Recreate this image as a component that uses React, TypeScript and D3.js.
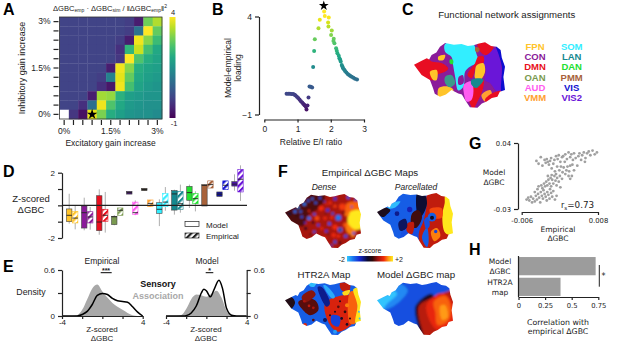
import React, { useEffect, useRef } from "react";
import * as d3 from "d3";

const W = 617;
const H = 342;
const FONT = "'Liberation Sans', Arial, sans-serif";
const DEJAVU = "'DejaVu Sans', sans-serif";
const INK = "#222";

// A: rows run from 3% (top) down to 0%, null is the white cell
const heatValues = [
  [0, 0, 0, 0, 0, 0, 0, -0.1, -0.6, 2.9, 3.4],
  [0, 0, 0, 0, 0, 0, 0, -0.1, 0.9, 4, 2.8],
  [0, 0, 0, 0, 0, 0, -0.1, -0.6, 3.9, 3.1, 2.4],
  [0, 0, 0, 0, 0, 0, -0.3, 2.3, 3.6, 2.5, 2],
  [0, 0, 0, 0, 0, 0, -0.2, 4, 2.6, 2.1, 1.9],
  [0, 0, 0, 0, 0, -0.6, 3.9, 3.1, 2.1, 1.9, 1.8],
  [0, 0, 0, 0, -0.1, 1.2, 3.8, 2.8, 2, 1.8, 1.7],
  [0, 0, 0, 0, -0.3, -0.7, 3.9, 2.5, 1.9, 1.7, 1.6],
  [0, 0, 0, -0.6, 3.3, 3.2, 2.2, 1.8, 1.7, 1.6, 1.6],
  [0, 0, -0.3, 0.8, 3.9, 2.6, 2, 1.7, 1.6, 1.5, 1.5],
  [null, -0.2, -0.8, 3.8, 3, 2.1, 1.8, 1.6, 1.5, 1.5, 1.4],
];

// B: E/I ratio vs loading, coloured by loading
const ratioVals = [0.67, 0.72, 0.77, 0.82, 0.87, 0.91, 0.94, 0.98, 1.02, 1.06, 1.1, 1.14, 1.17, 1.2, 1.22, 1.25, 1.27, 1.3, 1.33, 1.36, 1.4, 1.44, 1.47, 1.5, 1.52, 1.63, 1.67, 1.8, 1.82, 1.94, 1.92, 1.93, 2.03, 2.01, 2.09, 2.08, 2.11, 2.16, 2.18, 2.2, 2.24, 2.26, 2.28, 2.3, 2.33, 2.35, 2.37, 2.4, 2.43, 2.47, 2.51, 2.55, 2.59, 2.63, 2.68, 2.73, 2.79];
const loadingVals = [0.06, 0.06, 0.06, 0.05, 0.04, 0.01, -0.03, -0.09, -0.16, -0.24, -0.32, -0.39, -0.45, -0.5, -0.54, -0.6, -0.74, -0.54, -0.13, 0.43, 0.41, 0.38, 1.42, 2.24, 2.84, 3.4, 3.83, 4.26, 4.03, 3.95, 3.69, 3.49, 3.28, 3.06, 2.86, 2.75, 2.63, 2.38, 2.25, 2.12, 2, 1.87, 1.8, 1.7, 1.53, 1.45, 1.36, 1.3, 1.22, 1.14, 1.06, 1.01, 0.96, 0.92, 0.88, 0.83, 0.79];

// C: network names and colours
const networksLeft = ["FPN", "CON", "DMN", "OAN", "AUD", "VMM"];
const networksRight = ["SOM", "LAN", "DAN", "PMM", "VIS", "VIS2"];
const networkColors: Record<string, string> = {
  FPN: "#ffc42a", CON: "#8a1a9a", DMN: "#e81020", OAN: "#7a9a50", AUD: "#ff5cf0", VMM: "#ffa030",
  SOM: "#33eeff", LAN: "#16898f", DAN: "#22e030", PMM: "#a8623a", VIS: "#1010d0", VIS2: "#6a14d8",
};

// D: whisker high, q3, median, q1, whisker low
const boxNetworks = ["FPN", "CON", "DMN", "OAN", "AUD", "VMM", "SOM", "LAN", "DAN", "PMM", "VIS", "VIS2"];
const modelBoxes = [
  [0.71, -0.22, -0.61, -1.0, -1.12],
  [0.47, -0.04, -0.45, -1.39, -1.53],
  [0.98, 0.59, -1.02, -1.55, -1.8],
  [-0.6, -0.67, -0.7, -1.18, -1.22],
  [0.86, 0.86, 0.78, 0.69, 0.69],
  [1.04, 1.04, 0.97, 0.9, 0.9],
  [0.37, 0.16, -0.24, -0.49, -1.27],
  [0.96, 0.9, 0.7, -0.29, -0.57],
  [1.27, 1.16, 0.78, 0.31, -0.16],
  [1.27, 1.27, 1.22, -0.04, -0.04],
  [0.82, 0.82, 0.68, 0.55, 0.55],
  [1.9, 1.45, 1.3, 1.18, 0.9],
];
const empiricalBoxes = [
  [0, -0.37, -0.78, -1.08, -1.47],
  [-0.1, -0.39, -0.71, -1.08, -1.49],
  [0.82, -0.24, -0.61, -0.98, -1.67],
  [-0.16, -0.16, -0.3, -0.61, -0.61],
  [0.3, 0.2, -0.45, -0.57, -0.6],
  [0.33, 0.33, 0.12, -0.08, -0.08],
  [1.12, 0.73, 0.2, -0.08, -0.33],
  [1.27, 0.86, 0.1, -0.24, -0.45],
  [0.86, 0.73, 0.41, 0.1, -0.37],
  [1.5, 1.5, 1.27, 1.06, 1.06],
  [1.5, 1.5, 1.23, 0.96, 0.96],
  [2.45, 2.2, 1.6, 0.82, 0.27],
];
const smallModelColors: Record<string, string> = { AUD: "#4a1478", VMM: "#3a2a1a", VIS2: "#4a14a8", VIS: "#10109a" };

// E: densities as [z, density]
const empiricalAssoc = [[-4, 0], [-3, 0], [-2.5, 0.01], [-2, 0.08], [-1.5, 0.22], [-1, 0.36], [-0.5, 0.41], [0, 0.32], [0.5, 0.24], [1, 0.17], [1.5, 0.12], [2, 0.08], [2.5, 0.04], [3, 0.01], [3.5, 0], [4, 0]];
const empiricalSens = [[-4, 0], [-3, 0], [-2.5, 0], [-2, 0.02], [-1.5, 0.06], [-1, 0.15], [-0.5, 0.27], [0, 0.295], [0.5, 0.28], [1, 0.23], [1.5, 0.2], [2, 0.19], [2.5, 0.18], [3, 0.12], [3.5, 0.05], [4, 0]];
const modelAssoc = [[-4, 0], [-3, 0], [-2.5, 0.01], [-2, 0.09], [-1.5, 0.22], [-1, 0.28], [-0.5, 0.27], [0, 0.25], [0.5, 0.29], [1, 0.33], [1.5, 0.24], [2, 0.07], [2.5, 0.01], [3, 0], [4, 0]];
const modelSens = [[-4, 0], [-2.2, 0], [-2, 0.005], [-1.5, 0.04], [-1, 0.13], [-0.5, 0.3], [-0.25, 0.35], [0, 0.33], [0.4, 0.25], [0.75, 0.34], [1.25, 0.465], [1.6, 0.36], [2, 0.1], [2.5, 0.01], [3, 0], [4, 0]];

// G: empirical (x 1e-3), model (x 1e-2)
const scatterPoints = [
  [-5.1, -2], [-4.8, -1.8], [-4.6, -2.1], [-4.3, -1.7], [-4.1, -2.3], [-3.9, -1.9], [-3.6, -2.2], [-3.4, -1.6], [-3.2, -2], [-3, -1.4], [-2.8, -1.8], [-2.6, -2.3], [-2.5, -1.2], [-2.3, -1.6], [-2.1, -1.9], [-2, -1], [-1.8, -1.4], [-1.6, -1.7], [-1.4, -2.1], [-1.3, -1.2], [-1.1, -1.5], [-0.9, -1.9], [-0.8, -0.9], [-0.6, -1.3], [-0.4, -1.7], [-0.2, -1.1], [0.1, -2], [0.4, -1.6], [-3.6, -1.2], [-3.1, -0.9], [-2.9, -0.6],
  [-2.4, -0.5], [-2.2, -0.8], [-1.9, -0.3], [-1.7, -0.6], [-1.5, -0.1], [-1.3, -0.5], [-1.1, 0.1], [-0.9, -0.3], [-0.7, 0.3], [-0.6, -0.6], [-0.4, 0.1], [-0.2, -0.3], [0, 0.5], [0.2, 0], [0.4, -0.5], [0.5, 0.3], [0.8, -0.1], [1, 0.5], [1.1, -0.7], [-1.2, 0.5], [-0.5, 0.6], [0.3, 0.7], [1.4, 0.2],
  [-3.3, 2.1], [-2.9, 1.8], [-2.5, 2.5], [-2.2, 1.6], [-1.8, 2.2], [-1.6, 1.9], [-1.4, 2.3], [-1.2, 2], [-1, 1.7], [-0.8, 2.1], [-0.6, 2.4], [-0.5, 1.3], [-0.2, 1.8], [0, 2.2], [0.1, 1], [0.3, 2.6], [0.5, 1.5], [0.6, 2.3], [0.8, 2.7], [0.9, 1.1], [1.1, 2], [1.2, 1.5], [1.4, 2.5], [1.5, 0.9], [1.7, 1.4], [1.9, 2], [2, 0.7], [2.2, 1.1], [2.4, 1.5], [2.6, 0.5], [2.7, 1], [2.9, 0.2], [3.2, 0.5], [2.9, 1.6],
  [1.6, 2.6], [2, 2.8], [2.3, 2.3], [2.6, 3], [2.9, 2.5], [3.1, 2.8], [3.4, 2.2], [3.6, 2.9], [3.9, 2.4], [4.2, 1.6], [4.4, 2.6], [4.6, 2.9], [4.9, 2.2], [5.1, 2.7], [5.4, 3], [5.7, 2.4], [6, 2.9], [6.3, 3.1], [6.6, 2.7], [7, 3.2], [7.4, 2.8], [7.8, 3], [5.6, 2], [3.3, 1.7], [3.6, 1.1],
];

// H
const correlationValues = [0.725, 0.395];

// flat-map outline, shared by all five cortex pictures (map units 228 x 160)
const brainOutline = [[0, 55], [18, 46], [32, 39], [38, 42], [44, 31], [56, 25], [65, 11], [78, 2], [100, 6], [119, 4], [135, 9], [149, 7], [163, 3], [178, 0], [193, 9], [207, 11], [217, 19], [220, 38], [228, 60], [224, 85], [228, 117], [215, 121], [209, 133], [195, 136], [182, 145], [170, 150], [159, 160], [140, 159], [128, 141], [120, 128], [111, 125], [94, 117], [80, 128], [65, 133], [52, 126], [48, 113], [40, 92], [19, 80]];

type Poly = [string | number, number[][]];
type Blob = [number, number, number, number];

const networkPolys: Poly[] = [
  [networkColors.SOM, [[78, 4], [119, 2], [149, 5], [156, 27], [161, 47], [140, 60], [128, 72], [124, 108], [111, 118], [103, 84], [98, 56], [94, 36], [78, 23]]],
  [networkColors.VIS2, [[172, 42], [207, 15], [214, 35], [220, 72], [220, 117], [208, 120], [191, 100], [178, 92], [180, 68]]],
  [networkColors.VIS, [[205, 8], [220, 15], [232, 60], [232, 120], [220, 124], [220, 60], [211, 27]]],
  [networkColors.DMN, [[-4, 55], [32, 38], [44, 47], [70, 51], [86, 64], [78, 72], [57, 80], [48, 92], [40, 92], [17, 82]]],
  [networkColors.DMN, [[159, 5], [178, -3], [199, 11], [182, 31], [170, 27]]],
  [networkColors.FPN, [[61, 35], [78, 31], [74, 43], [61, 43]]],
  [networkColors.DMN, [[140, 108], [161, 100], [174, 92], [172, 117], [157, 149], [149, 162], [140, 149]]],
  [networkColors.AUD, [[125, 104], [144, 96], [149, 117], [144, 141], [132, 145], [125, 125]]],
  [networkColors.DMN, [[134, 80], [153, 51], [161, 35], [174, 35], [174, 51], [157, 56], [150, 78], [144, 88]]],
  [networkColors.FPN, [[157, 56], [174, 51], [178, 72], [166, 92], [153, 88], [153, 72]]],
  [networkColors.LAN, [[144, 92], [166, 88], [174, 92], [166, 104], [156, 112], [144, 104]]],
  [networkColors.VMM, [[169, 129], [191, 117], [195, 129], [178, 145]]],
  [networkColors.DMN, [[182, 148], [212, 135], [218, 119], [195, 125], [178, 140]]],
  [networkColors.FPN, [[62, 112], [86, 108], [99, 117], [82, 131], [62, 136]]],
  ["#3a9a8a", [[78, 84], [94, 80], [103, 100], [90, 110], [78, 100]]],
  [networkColors.FPN, [[40, 72], [57, 68], [57, 92], [48, 92]]],
  [networkColors.PMM, [[154, 12], [164, 15], [160, 25], [154, 22]]],
  [networkColors.DAN, [[90, 42], [98, 44], [97, 54], [90, 52]]],
  [networkColors.CON, [[112, 85], [122, 80], [124, 100], [112, 104]]],
];

const densePolys: Poly[] = [
  [0.35, [[-5, 55], [44, 28], [78, -2], [120, 0], [105, 40], [70, 62], [55, 95], [40, 95], [15, 84]]],
  [1.4, [[185, 28], [218, 24], [235, 55], [200, 62], [182, 55]]],
  [1.5, [[182, 85], [212, 100], [205, 128], [186, 112]]],
  [1.97, [[197, 52], [235, 52], [235, 96], [212, 106], [188, 84]]],
];
const denseBlobs: Blob[] = [
  [30, 52, 5, -1.4], [40, 40, 4, -1.6], [47, 52, 4, -1.3], [58, 30, 5, -1.5], [70, 20, 4, -1.3], [82, 14, 4, -1.4], [92, 26, 4, -1.3], [105, 12, 4, -1.2], [118, 22, 3, -1.1],
  [35, 65, 3, 0], [50, 68, 4, -1.2], [72, 72, 6, -1.4], [88, 60, 4, -1.2], [60, 85, 3, -1], [84, 85, 4, 0], [100, 92, 4, -1.1], [62, 102, 5, 0], [88, 112, 4, -1.2], [76, 120, 3, 0.1],
  [128, 48, 5, -1], [143, 58, 4, -1.2], [160, 70, 9, -1.3], [160, 70, 4, -1.7], [133, 88, 5, -1.2], [165, 106, 7, -1.4], [165, 106, 3, -0.1], [124, 110, 4, -1], [182, 125, 5, -1.2], [150, 142, 5, -1.2], [206, 116, 4, -1.2], [200, 38, 3, -1.2], [140, 152, 3, -1.2], [150, 14, 5, -1], [190, 10, 5, -1.2], [212, 17, 4, -1.3],
  [108, 42, 8, 1.2], [96, 72, 7, 1.3], [120, 72, 6, 1.1], [172, 38, 10, 1.25], [186, 60, 7, 1.45], [150, 98, 8, 1.2], [180, 92, 6, 1.35], [118, 132, 6, 1.1], [72, 50, 4, 1], [135, 26, 6, 1.1], [146, 122, 7, 1.15], [110, 102, 5, 1.1], [140, 70, 5, 1.2], [150, 36, 5, 1.25], [125, 30, 4, 1], [160, 125, 5, 1.2],
  [15, 58, 5, -0.2], [6, 56, 3, 0], [165, 145, 4, 0.1], [122, 58, 2.5, 0], [175, 55, 2.5, -0.1], [130, 118, 2.5, 0], [195, 122, 2.5, 0],
];

const parcelPolys: Poly[] = [
  [0.9, [[150, 6], [178, -3], [210, 8], [232, 60], [232, 120], [209, 136], [182, 148], [159, 164], [136, 162], [125, 120], [140, 80], [148, 40]]],
  [-1.3, [[-5, 55], [44, 28], [78, -2], [130, 0], [135, 40], [110, 70], [75, 110], [65, 138], [45, 116], [36, 92], [15, 82]]],
  [-1.9, [[30, 45], [50, 28], [70, 25], [55, 42]]],
  [0, [[-5, 55], [25, 42], [40, 50], [30, 62], [19, 70]]],
  [-0.2, [[122, -2], [142, 3], [150, 30], [138, 62], [125, 75], [118, 45]]],
  [1.97, [[205, 8], [222, 15], [232, 60], [232, 120], [205, 116], [196, 64], [203, 30]]],
  [1.3, [[158, 47], [194, 44], [194, 72], [168, 72]]],
  [0.3, [[105, 60], [125, 50], [135, 70], [120, 100], [105, 100]]],
  [0.9, [[90, 90], [110, 85], [105, 120], [90, 112]]],
  [-0.4, [[65, 85], [85, 75], [90, 100], [70, 110]]],
  [-1.3, [[135, 130], [150, 100], [155, 140], [150, 157]]],
  [1.5, [[162, 112], [180, 102], [190, 125], [172, 140]]],
  [-1.2, [[142, 78], [152, 70], [158, 95], [148, 105]]],
];
const parcelBlobs: Blob[] = [
  [165, 70, 13, -1.3], [165, 72, 6, -0.1], [176, 112, 5, -1.1], [98, 48, 8, -0.8], [60, 60, 7, -0.6],
];

const htrPolys: Poly[] = [
  [1.05, [[120, 65], [175, 40], [205, 45], [205, 120], [160, 150], [135, 130]]],
  [1.4, [[195, 30], [210, 30], [218, 70], [210, 125], [195, 125]]],
  [1.95, [[205, 22], [218, 18], [232, 60], [232, 120], [212, 125], [217, 70]]],
  [-1.9, [[72, 0], [95, -2], [88, 14], [74, 12]]],
  [0.9, [[165, 4], [195, 6], [190, 30], [170, 25]]],
  [1.9, [[172, 32], [195, 25], [190, 38], [176, 40]]],
  [0.4, [[40, 60], [75, 50], [95, 60], [100, 85], [75, 100], [50, 80]]],
  [0.6, [[50, 45], [80, 25], [92, 38], [60, 62]]],
  [-0.6, [[98, 15], [110, 15], [135, 65], [125, 75]]],
  [-1.8, [[115, 10], [122, 10], [150, 45], [142, 50]]],
  [0.1, [[-4, 55], [20, 46], [30, 62], [17, 82]]],
  [-1.1, [[140, 100], [165, 105], [160, 135], [140, 125]]],
];
const htrBlobs: Blob[] = [
  [60, 130, 6, 1.1], [150, 150, 6, -1.7], [170, 110, 4, -0.1], [186, 128, 4, -0.1], [120, 115, 6, -0.4], [186, 70, 6, 1.5], [85, 115, 4, 0.4], [160, 75, 4, 0.4],
  [58, 58, 4, 0.8], [72, 72, 4, 0.9], [85, 78, 4, 0.8], [165, 58, 3, 0], [180, 90, 4, 0.2], [150, 90, 3, 0], [195, 110, 3, 0.1], [135, 100, 3, -0.2], [222, 90, 3, -1.9], [224, 110, 3, -1.9],
];

const modelPolys: Poly[] = [
  [-1.6, [[-5, 55], [44, 28], [70, 6], [92, 25], [72, 55], [40, 78], [15, 84]]],
  [-1.95, [[-5, 55], [32, 37], [50, 26], [60, 36], [30, 66], [15, 84]]],
  [0, [[116, 72], [165, 36], [178, 100], [175, 175], [130, 165], [122, 130]]],
  [0.85, [[126, 72], [175, 42], [212, 12], [245, 60], [245, 130], [190, 160], [150, 175], [134, 140]]],
  [1.15, [[150, 65], [200, 35], [232, 80], [225, 125], [182, 145], [155, 110]]],
  [1.4, [[170, 60], [205, 42], [222, 80], [212, 118], [182, 130], [175, 90]]],
  [1.6, [[190, 72], [205, 70], [212, 108], [195, 114]]],
  [-1.2, [[170, -5], [215, 6], [225, 20], [180, 35], [152, 22]]],
];

const zScale = d3
  .scaleLinear<string>()
  .domain([-2, -1.5, -0.9, -0.2, 0.2, 0.7, 1.2, 1.6, 2])
  .range(["#33ccff", "#1b78f0", "#1428d0", "#0a0a30", "#2a0808", "#a01410", "#f02a08", "#ff9a14", "#ffee20"]);

const paint = (c: string | number) => (typeof c === "number" ? zScale(c) : c);

// tick-length helper so D3 axes look like the journal's thick dark axes
function styleAxis(g: any, font: string, size: number) {
  g.attr("font-family", font).attr("font-size", size).attr("color", INK);
  g.selectAll("path").attr("stroke-width", 1.2);
  g.selectAll("line").attr("stroke-width", 1.2);
}

function addText(svg: any, x: number, y: number, str: string, opts: any = {}) {
  return svg
    .append("text")
    .attr("x", x)
    .attr("y", y)
    .attr("font-family", opts.font || FONT)
    .attr("font-size", opts.size || 9.5)
    .attr("font-weight", opts.weight || "normal")
    .attr("font-style", opts.style || "normal")
    .attr("text-anchor", opts.anchor || "middle")
    .attr("fill", opts.fill || INK)
    .text(str);
}

function drawBrain(svg: any, id: string, x0: number, x1: number, y0: number, y1: number, base: string | number, polys: Poly[], blobs: Blob[], blur: number) {
  const x = d3.scaleLinear().domain([0, 228]).range([x0, x1]);
  const y = d3.scaleLinear().domain([0, 160]).range([y0, y1]);
  const outline = d3.line<number[]>().x((d) => x(d[0])).y((d) => y(d[1])).curve(d3.curveLinearClosed);
  const patch = d3.line<number[]>().x((d) => x(d[0])).y((d) => y(d[1])).curve(d3.curveCatmullRomClosed);
  const defs = svg.append("defs");
  defs.append("clipPath").attr("id", `clip-${id}`).append("path").attr("d", outline(brainOutline));
  defs.append("filter").attr("id", `soft-${id}`).append("feGaussianBlur").attr("stdDeviation", blur);
  const g = svg.append("g").attr("clip-path", `url(#clip-${id})`).append("g").attr("filter", `url(#soft-${id})`);
  // base is wider than the outline so the blur never fades its edge
  g.append("rect").attr("x", x0 - 6).attr("y", y0 - 6).attr("width", x1 - x0 + 12).attr("height", y1 - y0 + 12).attr("fill", paint(base));
  g.selectAll("path.poly")
    .data(polys)
    .join("path")
    .attr("class", "poly")
    .attr("d", (d: Poly) => patch(d[1]))
    .attr("fill", (d: Poly) => paint(d[0]));
  g.selectAll("circle")
    .data(blobs)
    .join("circle")
    .attr("cx", (d: Blob) => x(d[0]))
    .attr("cy", (d: Blob) => y(d[1]))
    .attr("r", (d: Blob) => x(d[2]) - x(0))
    .attr("fill", (d: Blob) => zScale(d[3]));
}

function drawDensity(svg: any, left: number, right: number, assoc: number[][], sens: number[][], side: "left" | "right") {
  const x = d3.scaleLinear().domain([-4, 4]).range([left, right]);
  const y = d3.scaleLinear().domain([0, 0.6]).range([316, 270]);
  const area = d3.area<number[]>().x((d) => x(d[0])).y0(y(0)).y1((d) => y(d[1])).curve(d3.curveMonotoneX);
  const line = d3.line<number[]>().x((d) => x(d[0])).y((d) => y(d[1])).curve(d3.curveMonotoneX);
  svg.append("path").attr("d", area(assoc)).attr("fill", "#a8a8a8");
  svg.append("path").attr("d", line(sens)).attr("fill", "none").attr("stroke", "#000").attr("stroke-width", 1.5);

  const xAxis = d3.axisBottom(x).tickValues([-4, -2, 0, 2, 4]).tickSize(3).tickSizeOuter(0).tickFormat((d: any) => (Math.abs(d) === 4 ? String(d) : ""));
  const gx = svg.append("g").attr("transform", `translate(0,${y(0)})`).call(xAxis);
  styleAxis(gx, FONT, 8);
  gx.selectAll("text").attr("dy", "0.5em").attr("y", 5);

  const yAxis = (side === "left" ? d3.axisLeft(y) : d3.axisRight(y))
    .tickValues([0, 0.3, 0.6])
    .tickSize(4)
    .tickSizeOuter(0)
    .tickFormat((d: any) => (d === 0.3 ? "" : d === 0 ? "0" : String(d)));
  const gy = svg.append("g").attr("transform", `translate(${side === "left" ? left : right},0)`).call(yAxis);
  styleAxis(gy, FONT, 8);
}

const App = () => {
  const svgRef = useRef<SVGSVGElement>(null);

  useEffect(() => {
    const root = d3.select(svgRef.current);
    root.selectAll("*").remove();
    const svg: any = root.attr("width", W).attr("height", H);

    // Panel letters
    const letters: [string, number, number][] = [
      ["A", 3, 15], ["B", 212, 15], ["C", 402, 15], ["D", 3, 177], ["E", 3, 272], ["F", 278, 177], ["G", 469, 149], ["H", 469, 255],
    ];
    letters.forEach(([l, x, y]) => addText(svg, x, y, l, { size: 16, weight: "bold", anchor: "start", fill: "#000" }));

    // --- A: heatmap
    const heatIdx = d3.range(11);
    const col = d3.scaleBand<number>().domain(heatIdx).range([59.5, 162]);
    const row = d3.scaleBand<number>().domain(heatIdx).range([17, 119]);
    const viridis = d3.scaleSequential(d3.interpolateViridis).domain([-1, 4]);
    const cells = heatValues.flatMap((r, i) => r.map((v, j) => ({ i, j, v })));
    svg
      .append("g")
      .selectAll("rect")
      .data(cells)
      .join("rect")
      .attr("x", (d: any) => col(d.j))
      .attr("y", (d: any) => row(d.i))
      .attr("width", col.bandwidth() + 0.3)
      .attr("height", row.bandwidth() + 0.3)
      .attr("fill", (d: any) => (d.v === null ? "#fff" : viridis(d.v)));
    svg.append("rect").attr("x", 59.5).attr("y", 17).attr("width", 102.5).attr("height", 102).attr("fill", "none").attr("stroke", "#333").attr("stroke-width", 0.8);

    const pctLabels: Record<number, string> = { 0: "0%", 5: "1.5%", 10: "3%" };
    const ax = d3.axisBottom(col).tickSize(5).tickSizeOuter(0).tickFormat((d: any) => pctLabels[d] || "");
    const gax = svg.append("g").attr("transform", "translate(0,120)").call(ax);
    styleAxis(gax, FONT, 8.5);
    gax.select("path").remove();
    const ay = d3
      .scaleBand<number>()
      .domain(heatIdx.slice().reverse())
      .range([17, 119]);
    const gay = svg
      .append("g")
      .attr("transform", "translate(58.5,0)")
      .call(d3.axisLeft(ay).tickSize(5).tickSizeOuter(0).tickFormat((d: any) => pctLabels[d] || ""));
    styleAxis(gay, FONT, 8.5);
    gay.select("path").remove();

    const title = addText(svg, 110, 10.5, "ΔGBC", { size: 7.6 });
    title.append("tspan").attr("font-size", 5).attr("dy", 1.5).text("emp");
    title.append("tspan").attr("dy", -1.5).text(" · ΔGBC");
    title.append("tspan").attr("font-size", 5).attr("dy", 1.5).text("sim");
    title.append("tspan").attr("dy", -1.5).text(" / ‖ΔGBC");
    title.append("tspan").attr("font-size", 5).attr("dy", 1.5).text("emp");
    title.append("tspan").attr("dy", -1.5).text("‖");
    title.append("tspan").attr("font-size", 5).attr("dy", -2.5).text("2");

    addText(svg, 23, 68, "Inhibitory gain increase", { size: 9 }).attr("transform", "rotate(-90 23 68)").attr("dominant-baseline", "middle");
    addText(svg, 110.5, 146, "Excitatory gain increase", { size: 8.5 });

    // colour bar
    const cbId = "viridis-bar";
    const cbGrad = svg.append("defs").append("linearGradient").attr("id", cbId).attr("x1", "0%").attr("y1", "100%").attr("x2", "0%").attr("y2", "0%");
    cbGrad
      .selectAll("stop")
      .data(d3.range(0, 1.01, 0.1))
      .join("stop")
      .attr("offset", (d: number) => `${d * 100}%`)
      .attr("stop-color", (d: number) => d3.interpolateViridis(d));
    svg.append("rect").attr("x", 169.5).attr("y", 17).attr("width", 6).attr("height", 101).attr("fill", `url(#${cbId})`);
    addText(svg, 173, 14.5, "4", { size: 7.5 });
    addText(svg, 174, 126, "-1", { size: 7.5 });

    const star = d3.symbol().type(d3.symbolStar).size(34);
    svg.append("path").attr("d", star()).attr("fill", "#000").attr("transform", `translate(${(col(3) as number) + col.bandwidth() / 2},${(row(10) as number) + row.bandwidth() / 2})`);

    // --- B: scatter
    const bx = d3.scaleLinear().domain([0, 3]).range([264.3, 364]);
    const by = d3.scaleLinear().domain([-1, 4]).range([114.5, 16.5]);
    svg
      .append("g")
      .selectAll("circle")
      .data(d3.range(ratioVals.length))
      .join("circle")
      .attr("cx", (i: number) => bx(ratioVals[i]))
      .attr("cy", (i: number) => by(loadingVals[i]))
      .attr("r", 2)
      .attr("fill", (i: number) => viridis(loadingVals[i]));
    const gbx = svg.append("g").attr("transform", "translate(0,119.5)").call(d3.axisBottom(bx).tickValues([0, 1, 2, 3]).tickSize(3).tickSizeOuter(0).tickFormat(d3.format("d")));
    styleAxis(gbx, FONT, 8.5);
    const gby = svg.append("g").attr("transform", "translate(259,0)").call(d3.axisLeft(by).tickValues([-1, 4]).tickSize(4).tickSizeOuter(0).tickFormat(d3.format("d")));
    styleAxis(gby, FONT, 8.5);
    svg.append("path").attr("d", d3.symbol().type(d3.symbolStar).size(30)()).attr("fill", "#000").attr("transform", `translate(${bx(1.79)},${by(4.55)})`);
    addText(svg, 229, 68, "Model-empirical", { size: 8.5 }).attr("transform", "rotate(-90 229 68)").attr("dominant-baseline", "middle");
    addText(svg, 239, 68, "loading", { size: 8.5 }).attr("transform", "rotate(-90 239 68)").attr("dominant-baseline", "middle");
    addText(svg, 311, 145, "Relative E/I ratio", { size: 8.5 });

    // --- C: network map
    addText(svg, 506.7, 17.5, "Functional network assignments", { size: 9.6 });
    drawBrain(svg, "net", 414, 505, 42.3, 107.7, networkColors.CON, networkPolys, [], 0.25);
    const legendY = d3.scalePoint<number>().domain(d3.range(6)).range([50, 101]);
    networksLeft.forEach((n, i) => addText(svg, 535, legendY(i) as number, n, { size: 9.5, weight: "bold", fill: networkColors[n] }));
    networksRight.forEach((n, i) => addText(svg, 571.7, legendY(i) as number, n, { size: 9.5, weight: "bold", fill: networkColors[n] }));

    // --- D: boxes
    const dx = d3.scalePoint<string>().domain(boxNetworks).range([72.2, 237.5]);
    const dy = d3.scaleLinear().domain([-2, 2]).range([238, 172.7]);
    const defs = svg.append("defs");
    boxNetworks.forEach((n) => {
      const p = defs.append("pattern").attr("id", `hatch-${n}`).attr("width", 4).attr("height", 4).attr("patternUnits", "userSpaceOnUse").attr("patternTransform", "rotate(-45) scale(1.1)");
      p.append("rect").attr("width", 4).attr("height", 4).attr("fill", "#fff");
      p.append("rect").attr("width", 4).attr("height", 2).attr("fill", networkColors[n]);
    });
    defs.append("pattern").attr("id", "hatch-legend").attr("width", 4).attr("height", 4).attr("patternUnits", "userSpaceOnUse").attr("patternTransform", "rotate(-45) scale(1.1)").call((p: any) => {
      p.append("rect").attr("width", 4).attr("height", 4).attr("fill", "#fff");
      p.append("rect").attr("width", 4).attr("height", 2).attr("fill", "#222");
    });

    const gdy = svg.append("g").attr("transform", "translate(62,0)").call(d3.axisLeft(dy).tickValues([-2, -1, 0, 1, 2]).tickSize(4).tickSizeOuter(0).tickFormat((d: any) => (Math.abs(d) === 2 ? String(d) : "")));
    styleAxis(gdy, FONT, 8);

    const drawBoxes = (stats: number[][], offset: number, hatched: boolean) => {
      const g = svg.append("g").selectAll("g").data(boxNetworks).join("g");
      const cx = (n: string) => (dx(n) as number) + offset;
      const s = (n: string) => stats[boxNetworks.indexOf(n)];
      g.append("line")
        .attr("x1", cx).attr("x2", cx)
        .attr("y1", (n: string) => dy(s(n)[0]))
        .attr("y2", (n: string) => dy(s(n)[4]))
        .attr("stroke", "#999").attr("stroke-width", 0.8);
      g.append("rect")
        .attr("x", (n: string) => cx(n) - 2.7)
        .attr("width", 5.4)
        .attr("y", (n: string) => dy(s(n)[1]))
        .attr("height", (n: string) => dy(s(n)[3]) - dy(s(n)[1]))
        .attr("fill", (n: string) => (hatched ? `url(#hatch-${n})` : smallModelColors[n] || networkColors[n]))
        .attr("stroke", (n: string) => (hatched ? networkColors[n] : "#444"))
        .attr("stroke-width", 0.6);
      g.append("line")
        .attr("x1", (n: string) => cx(n) - 2.7)
        .attr("x2", (n: string) => cx(n) + 2.7)
        .attr("y1", (n: string) => dy(s(n)[2]))
        .attr("y2", (n: string) => dy(s(n)[2]))
        .attr("stroke", "#222").attr("stroke-width", 0.9);
    };
    drawBoxes(modelBoxes, -3, false);
    drawBoxes(empiricalBoxes, 3, true);
    svg.append("line").attr("x1", 62).attr("x2", 247).attr("y1", dy(0)).attr("y2", dy(0)).attr("stroke", "#222").attr("stroke-width", 1.2);
    addText(svg, 31, 202, "Z-scored", { size: 9.5 });
    addText(svg, 31, 213, "ΔGBC", { size: 9.5 });
    svg.append("rect").attr("x", 185).attr("y", 221.5).attr("width", 14).attr("height", 5).attr("fill", "#fff").attr("stroke", "#222").attr("stroke-width", 0.7);
    svg.append("rect").attr("x", 185).attr("y", 233).attr("width", 14).attr("height", 5).attr("fill", "url(#hatch-legend)").attr("stroke", "#222").attr("stroke-width", 0.7);
    addText(svg, 206, 227.5, "Model", { size: 8, anchor: "start" });
    addText(svg, 206, 238.5, "Empirical", { size: 8, anchor: "start" });

    // --- E: densities
    drawDensity(svg, 62, 142.7, empiricalAssoc, empiricalSens, "left");
    drawDensity(svg, 166, 246.7, modelAssoc, modelSens, "right");
    addText(svg, 102, 263.5, "Empirical", { size: 8.5 });
    addText(svg, 207, 263.5, "Model", { size: 8.5 });
    svg.append("line").attr("x1", 100.7).attr("x2", 111.7).attr("y1", 272.7).attr("y2", 272.7).attr("stroke", "#000").attr("stroke-width", 1);
    svg.append("line").attr("x1", 205.7).attr("x2", 213.3).attr("y1", 272.7).attr("y2", 272.7).attr("stroke", "#000").attr("stroke-width", 1);
    addText(svg, 106, 273, "***", { size: 7, weight: "bold" });
    addText(svg, 209.5, 273, "*", { size: 7, weight: "bold" });
    addText(svg, 158, 287, "Sensory", { size: 9, weight: "bold", fill: "#111" });
    addText(svg, 158, 298.5, "Association", { size: 9, weight: "bold", fill: "#a8a8a8" });
    addText(svg, 31, 295, "Density", { size: 8.8 });
    addText(svg, 102, 332, "Z-scored", { size: 8 });
    addText(svg, 102, 341, "ΔGBC", { size: 8 });
    addText(svg, 206, 332, "Z-scored", { size: 8 });
    addText(svg, 206, 341, "ΔGBC", { size: 8 });

    // --- F: z-score maps
    addText(svg, 370, 176, "Empirical ΔGBC Maps", { size: 9.7 });
    addText(svg, 324, 190, "Dense", { size: 8.5, style: "italic" });
    addText(svg, 416, 190, "Parcellated", { size: 8.5, style: "italic" });
    drawBrain(svg, "dense", 285, 361, 194, 248, 0.75, densePolys, denseBlobs, 0.9);
    drawBrain(svg, "parc", 377, 453, 193, 248, -1.2, parcelPolys, parcelBlobs, 0.6);
    drawBrain(svg, "htr", 285, 361, 282, 335, -1.3, htrPolys, htrBlobs, 0.6);
    drawBrain(svg, "model", 377, 453, 282, 335, -1.2, modelPolys, [], 1.3);

    addText(svg, 370, 253, "z-score", { size: 7 });
    const zId = "z-bar";
    const zGrad = svg.append("defs").append("linearGradient").attr("id", zId);
    zGrad
      .selectAll("stop")
      .data(zScale.domain())
      .join("stop")
      .attr("offset", (d: number) => `${((d + 2) / 4) * 100}%`)
      .attr("stop-color", (d: number) => zScale(d));
    svg.append("rect").attr("x", 347).attr("y", 256).attr("width", 46).attr("height", 5.5).attr("fill", `url(#${zId})`);
    addText(svg, 345, 261.5, "-2", { size: 7, anchor: "end" });
    addText(svg, 395, 261.5, "+2", { size: 7, anchor: "start" });
    addText(svg, 324, 278, "HTR2A Map", { size: 9.7 });
    addText(svg, 416, 278, "Model ΔGBC map", { size: 9.7 });

    // --- G: correlation scatter
    const gx = d3.scaleLinear().domain([-6, 8]).range([521.7, 598]);
    const gy = d3.scaleLinear().domain([-3, 4]).range([209, 143]);
    svg
      .append("g")
      .selectAll("circle")
      .data(scatterPoints)
      .join("circle")
      .attr("cx", (d: number[]) => gx(d[0]))
      .attr("cy", (d: number[]) => gy(d[1]))
      .attr("r", 1.4)
      .attr("fill", "#a0a0a0");
    const ggx = svg.append("g").attr("transform", "translate(0,212)").call(d3.axisBottom(gx).tickValues([-6, 8]).tickSize(3).tickSizeOuter(0).tickFormat((d: any) => (d === 8 ? "0.008" : "-0.006")));
    styleAxis(ggx, DEJAVU, 6.8);
    const ggy = svg.append("g").attr("transform", "translate(518,0)").call(d3.axisLeft(gy).tickValues([-3, 4]).tickSize(4).tickSizeOuter(0).tickFormat((d: any) => (d === 4 ? "0.04" : "-0.03")));
    styleAxis(ggy, DEJAVU, 6.8);
    addText(svg, 494, 175, "Model", { size: 7.5, font: DEJAVU });
    addText(svg, 494, 184.5, "ΔGBC", { size: 7.5, font: DEJAVU });
    addText(svg, 558, 232, "Empirical", { size: 7.5, font: DEJAVU });
    addText(svg, 558, 241, "ΔGBC", { size: 7.5, font: DEJAVU });
    const rs = addText(svg, 561, 208, "r", { size: 8, font: DEJAVU, anchor: "start" });
    rs.append("tspan").attr("font-size", 5.5).attr("dy", 1.5).text("s");
    rs.append("tspan").attr("dy", -1.5).attr("font-size", 8.8).text("=0.73");

    // --- H: bars
    const hx = d3.scaleLinear().domain([0, 0.75]).range([518.5, 598.3]);
    const hy = d3.scaleBand<number>().domain([0, 1]).range([256, 297]).paddingInner(0.12).paddingOuter(0.05);
    svg
      .append("g")
      .selectAll("rect")
      .data(correlationValues)
      .join("rect")
      .attr("x", hx(0))
      .attr("y", (_: number, i: number) => hy(i))
      .attr("width", (d: number) => hx(d) - hx(0))
      .attr("height", hy.bandwidth())
      .attr("fill", "#9c9c9c");
    const ghx = svg.append("g").attr("transform", "translate(0,297)").call(d3.axisBottom(hx).tickValues([0, 0.25, 0.5, 0.75]).tickSize(3).tickSizeOuter(0).tickFormat((d: any) => (d === 0 ? "0" : String(d))));
    styleAxis(ghx, DEJAVU, 6.8);
    svg.append("line").attr("x1", 518.5).attr("x2", 518.5).attr("y1", 256).attr("y2", 297).attr("stroke", INK).attr("stroke-width", 1.2);
    svg.append("line").attr("x1", 599.3).attr("x2", 599.3).attr("y1", 265).attr("y2", 286.7).attr("stroke", INK).attr("stroke-width", 1);
    addText(svg, 603.5, 279, "*", { size: 8, font: DEJAVU });
    addText(svg, 500, 264, "Model", { size: 7.5, font: DEJAVU });
    addText(svg, 500, 273.5, "ΔGBC", { size: 7.5, font: DEJAVU });
    addText(svg, 500, 285, "HTR2A", { size: 7.5, font: DEJAVU });
    addText(svg, 500, 294.5, "map", { size: 7.5, font: DEJAVU });
    addText(svg, 558, 324.5, "Correlation with", { size: 7.8, font: DEJAVU });
    addText(svg, 558, 334, "empirical ΔGBC", { size: 7.8, font: DEJAVU });
  }, []);

  return <svg ref={svgRef} style={{ position: "absolute", left: 0, top: 0 }} />;
};

export default App;
